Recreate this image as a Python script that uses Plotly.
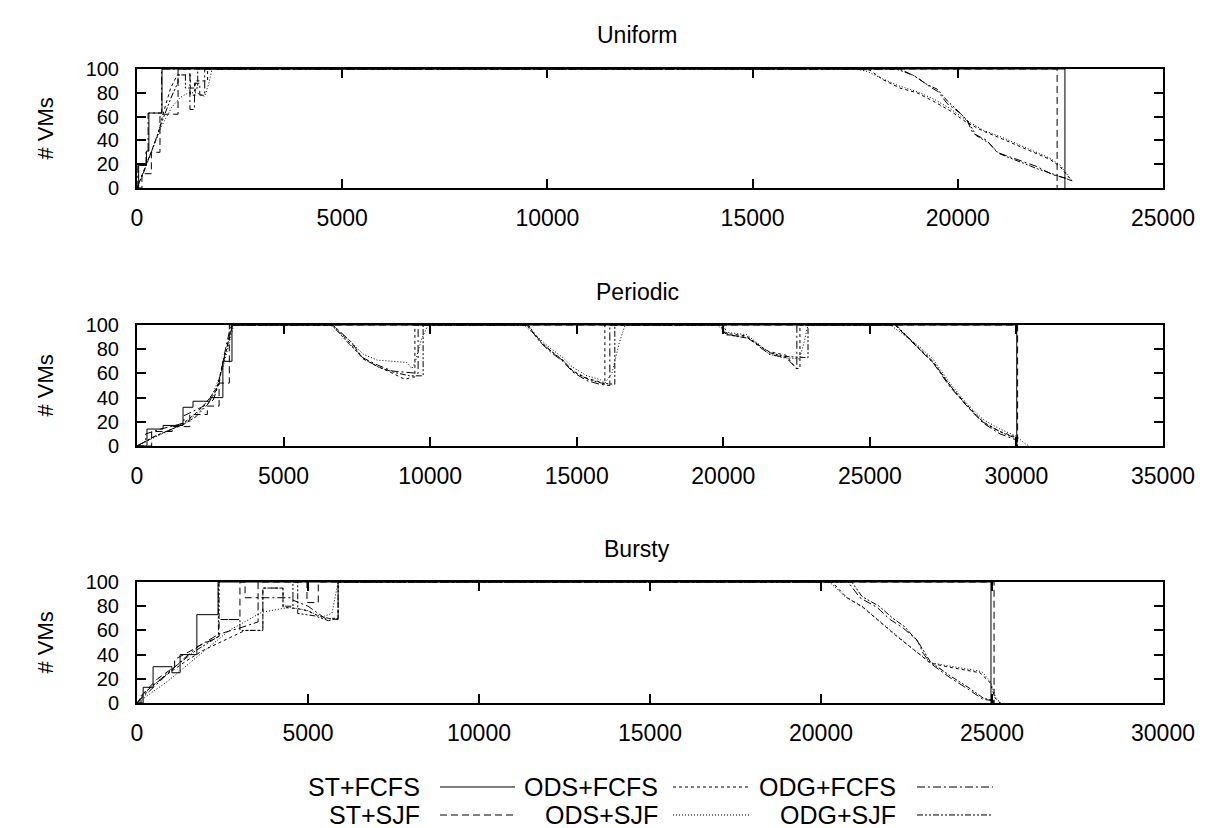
import plotly.graph_objects as go

W, H = 1211, 828
FONT = "Liberation Sans, Arial, Helvetica, sans-serif"
FS_TITLE = 23
FS_XTICK = 23
FS_YTICK = 20
FS_KEY = 25
FS_YLABEL = 22

SERIES = ["ST+FCFS", "ST+SJF", "ODS+FCFS", "ODS+SJF", "ODG+FCFS", "ODG+SJF"]
DASH = {
    "ST+FCFS": "solid",
    "ST+SJF": "7px,4px",
    "ODS+FCFS": "3px,3px",
    "ODS+SJF": "1px,2px",
    "ODG+FCFS": "8px,3px,2px,3px",
    "ODG+SJF": "6px,2px,2px,2px,2px,2px",
}

# ---------------- Uniform workload ----------------
uni_st_fcfs_t = [0, 40, 40, 230, 230, 290, 290, 610, 610, 22610, 22610]
uni_st_fcfs_v = [0, 0, 19, 19, 31, 31, 63, 63, 100, 100, 0]

uni_st_sjf_t = [0, 120, 120, 350, 350, 560, 560, 1000, 1000, 22420, 22420]
uni_st_sjf_v = [0, 0, 12, 12, 30, 30, 62, 62, 100, 100, 0]

uni_ods_fcfs_t = [0, 250, 500, 650, 820, 980, 1300, 1300, 1420, 1420, 1720, 1720,
                  17550, 17860, 18180, 18590, 19005, 19400, 19810, 20220, 20610,
                  21030, 21440, 21830, 22250, 22490, 22730]
uni_ods_fcfs_v = [0, 22, 44, 64, 84, 95, 95, 78, 78, 90, 90, 100,
                  100, 99, 91, 84, 80, 73, 65, 55, 48,
                  42, 36, 30, 24, 18, 8]

uni_ods_sjf_t = [0, 300, 600, 850, 1050, 1250, 1450, 1650, 1750, 1830,
                 17500, 17800, 18150, 18550, 19000, 19400, 19800, 20250, 20650,
                 21050, 21450, 21850, 22250, 22500, 22760]
uni_ods_sjf_v = [0, 26, 52, 68, 76, 80, 80, 77, 88, 100,
                 100, 98, 92, 86, 81, 75, 67, 56, 48,
                 43, 37, 31, 25, 19, 7]

uni_odg_fcfs_t = [0, 20, 20, 220, 220, 270, 270, 600, 600, 1290, 1290, 1400, 1400,
                  1530, 1530, 1650, 1650, 18590, 19005, 19320, 19520, 19740, 20050,
                  20220, 20370, 20710, 20955, 21440, 21930, 22320, 22660, 22810]
uni_odg_fcfs_v = [0, 0, 19, 19, 31, 31, 63, 63, 100, 100, 66, 66, 88,
                  88, 78, 78, 100, 100, 93, 85, 81, 71, 63,
                  57, 46, 40, 30, 24, 18, 11, 8, 5]

uni_odg_sjf_t = [0, 150, 400, 600, 820, 1000, 1000, 1180, 1180, 1480, 1480, 1800,
                 18500, 18900, 19250, 19500, 19750, 20000, 20250, 20450, 20750,
                 21000, 21500, 21950, 22300, 22650, 22790]
uni_odg_sjf_v = [0, 12, 35, 55, 75, 89, 95, 95, 84, 84, 100, 100,
                 100, 95, 87, 83, 73, 65, 56, 44, 38,
                 29, 22, 16, 12, 8, 6]

# ---------------- Periodic workload ----------------
per_st_fcfs_t = [0, 340, 340, 890, 890, 1570, 1570, 1910, 1910, 2490, 2490, 2930,
                 2930, 3240, 3240, 30010, 30010]
per_st_fcfs_v = [0, 0, 14, 14, 17, 17, 32, 32, 37, 37, 40, 40,
                 70, 70, 100, 100, 0]

per_st_sjf_t = [0, 500, 500, 1200, 1200, 1800, 1800, 2400, 2400, 2800, 2800, 3150,
                3150, 30040, 30040]
per_st_sjf_v = [0, 0, 12, 12, 16, 16, 26, 26, 33, 33, 52, 52,
                100, 100, 0]

per_ods_fcfs_t = [0, 700, 1200, 1700, 2100, 2500, 2760, 2930, 3070, 3240,
                  6690, 7265, 7710, 8190, 8730, 9140, 9400, 9480, 9480,
                  13300, 13750, 14090, 14530, 14870, 15350, 15790, 15960, 15960,
                  19900, 20060, 20800, 21220, 21560, 22140, 22480, 22615, 22615,
                  25855, 26600, 27150, 27730, 28310, 28860, 29440, 30020, 30020]
per_ods_fcfs_v = [0, 9, 14, 21, 29, 40, 50, 70, 81, 100,
                  100, 85, 72, 66, 60, 55, 57, 57, 100,
                  100, 87, 79, 71, 62, 56, 53, 51, 100,
                  100, 93, 91, 83, 78, 75, 64, 64, 100,
                  100, 83, 70, 50, 34, 20, 12, 7, 0]

per_ods_sjf_t = [0, 1000, 1700, 2200, 2600, 2900, 3100, 3300,
                 6600, 7265, 7710, 8190, 8730, 9200, 9380, 9500, 9700, 9930,
                 13200, 13750, 14090, 14530, 14870, 15350, 15790, 15960, 16200, 16450, 16650,
                 19800, 20060, 20800, 21220, 21560, 22000, 22600, 22750, 22890,
                 25700, 26600, 27150, 27730, 28310, 28860, 29440, 30000, 30290, 30450]
per_ods_sjf_v = [0, 12, 20, 30, 44, 62, 80, 100,
                 100, 87, 76, 71, 70, 69, 64, 70, 88, 100,
                 100, 88, 81, 73, 65, 58, 55, 52, 60, 85, 100,
                 100, 94, 92, 84, 76, 73, 72, 85, 100,
                 100, 84, 72, 52, 35, 22, 14, 8, 2, 0]

per_odg_fcfs_t = [0, 300, 300, 800, 1300, 1600, 1600, 2200, 2600, 2800, 3000, 3200,
                  6690, 7300, 7700, 8200, 8700, 9380, 9590, 9590,
                  13300, 13750, 14090, 14530, 14870, 15350, 15790, 16130, 16130,
                  19950, 20060, 20800, 21220, 21560, 22140, 22480, 22510, 22510,
                  25855, 26600, 27150, 27730, 28310, 28860, 29440, 30000, 30000]
per_odg_fcfs_v = [0, 4, 10, 14, 17, 19, 25, 32, 38, 52, 78, 100,
                  100, 86, 73, 67, 62, 60, 60, 100,
                  100, 86, 78, 70, 61, 54, 51, 50, 100,
                  100, 92, 90, 82, 76, 73, 64, 64, 100,
                  100, 82, 69, 49, 33, 19, 10, 5, 0]

per_odg_sjf_t = [0, 600, 1100, 1600, 2000, 2400, 2700, 2900, 3100, 3260,
                 6650, 7250, 7750, 8250, 8750, 9300, 9760, 9760,
                 13350, 13800, 14150, 14600, 14900, 15400, 15850, 16300, 16300,
                 20000, 20150, 20850, 21300, 21600, 22100, 22600, 22890, 22890,
                 25900, 26650, 27200, 27800, 28350, 28900, 29500, 30030, 30030]
per_odg_sjf_v = [0, 8, 13, 18, 24, 34, 46, 64, 85, 100,
                 100, 84, 72, 65, 61, 58, 58, 100,
                 100, 85, 78, 69, 61, 55, 52, 51, 100,
                 100, 92, 89, 82, 77, 74, 73, 73, 100,
                 100, 81, 68, 48, 32, 19, 11, 6, 0]

# ---------------- Bursty workload ----------------
bur_st_fcfs_t = [0, 180, 180, 470, 470, 1020, 1020, 1260, 1260, 1750, 1750, 2370,
                 2370, 24970, 24970]
bur_st_fcfs_v = [0, 0, 13, 13, 30, 30, 25, 25, 40, 40, 73, 73,
                 100, 100, 0]

bur_st_sjf_t = [0, 120, 120, 600, 1100, 1100, 1500, 1800, 2400, 2400, 3010, 3010,
                3160, 3160, 3540, 3540, 4970, 4970, 5300, 5300, 25060, 25060]
bur_st_sjf_v = [0, 0, 6, 20, 30, 36, 42, 47, 55, 69, 69, 100,
                100, 87, 87, 100, 100, 83, 83, 100, 100, 0]

bur_ods_fcfs_t = [0, 400, 900, 1400, 1900, 2400, 2900, 3160, 3160, 3680, 3680, 4270,
                  4270, 4700, 5000, 5300, 5600, 5880, 5880,
                  20320, 20760, 21230, 21730, 22220, 22810, 23190, 23680, 24270,
                  24650, 24940, 25090, 25240]
bur_ods_fcfs_v = [0, 13, 24, 34, 43, 50, 57, 60, 60, 60, 95, 95,
                  79, 78, 76, 72, 70, 70, 100,
                  100, 87, 79, 67, 55, 42, 33, 30, 27,
                  25, 17, 4, 0]

bur_ods_sjf_t = [0, 900, 1750, 2700, 3650, 4440, 4940, 5400, 5700, 5880,
                 20250, 20700, 21200, 21700, 22200, 22750, 23250, 23700, 24300,
                 24700, 24950, 25100, 25250]
bur_ods_sjf_v = [0, 18, 38, 60, 75, 79, 77, 71, 74, 100,
                 100, 88, 80, 68, 56, 43, 33, 31, 28,
                 26, 18, 5, 0]

bur_odg_fcfs_t = [0, 300, 800, 1300, 1800, 2400, 2400, 3010, 3010, 3540, 3540, 4560,
                  4560, 5000, 5500, 5880, 5880,
                  20790, 21140, 21640, 22020, 22400, 22810, 22990, 23190, 23770,
                  24270, 24740, 25030, 25030]
bur_odg_fcfs_v = [0, 8, 22, 35, 47, 57, 57, 62, 62, 67, 87, 87,
                  85, 80, 70, 69, 100,
                  100, 87, 79, 69, 62, 52, 41, 33, 21,
                  12, 3, 2, 0]

bur_odg_sjf_t = [0, 200, 700, 1200, 1700, 2200, 2380, 2380, 2400, 2400, 3010, 3010,
                 3680, 3680, 4270, 4270, 4560, 4560, 4700, 4700, 5200, 5600, 5880, 5880,
                 20900, 21200, 21700, 22100, 22450, 22850, 23200, 23800, 24300,
                 24750, 25050, 25050]
bur_odg_sjf_v = [0, 8, 20, 32, 43, 52, 55, 100, 100, 69, 69, 60,
                 60, 95, 95, 80, 80, 100, 100, 74, 72, 68, 70, 100,
                 100, 88, 80, 70, 63, 50, 34, 22, 13,
                 4, 2, 0]

PANELS = [
    {
        "title": "Uniform", "xmax": 25000,
        "data": [(uni_st_fcfs_t, uni_st_fcfs_v), (uni_st_sjf_t, uni_st_sjf_v),
                 (uni_ods_fcfs_t, uni_ods_fcfs_v), (uni_ods_sjf_t, uni_ods_sjf_v),
                 (uni_odg_fcfs_t, uni_odg_fcfs_v), (uni_odg_sjf_t, uni_odg_sjf_v)],
        "top": 69, "bottom": 188, "title_y": 35,
    },
    {
        "title": "Periodic", "xmax": 35000,
        "data": [(per_st_fcfs_t, per_st_fcfs_v), (per_st_sjf_t, per_st_sjf_v),
                 (per_ods_fcfs_t, per_ods_fcfs_v), (per_ods_sjf_t, per_ods_sjf_v),
                 (per_odg_fcfs_t, per_odg_fcfs_v), (per_odg_sjf_t, per_odg_sjf_v)],
        "top": 325, "bottom": 446, "title_y": 292,
    },
    {
        "title": "Bursty", "xmax": 30000,
        "data": [(bur_st_fcfs_t, bur_st_fcfs_v), (bur_st_sjf_t, bur_st_sjf_v),
                 (bur_ods_fcfs_t, bur_ods_fcfs_v), (bur_ods_sjf_t, bur_ods_sjf_v),
                 (bur_odg_fcfs_t, bur_odg_fcfs_v), (bur_odg_sjf_t, bur_odg_sjf_v)],
        "top": 582, "bottom": 703, "title_y": 549,
    },
]

X_LEFT, X_RIGHT = 137, 1163


def px(x):
    return x / W


def py(y):
    return 1 - y / H


fig = go.Figure()
annotations = []
shapes = []

for i, panel in enumerate(PANELS, start=1):
    xa = "x" if i == 1 else f"x{i}"
    ya = "y" if i == 1 else f"y{i}"
    for name, (t, v) in zip(SERIES, panel["data"]):
        fig.add_trace(go.Scatter(
            x=t, y=v, mode="lines", name=name, showlegend=False,
            line=dict(color="black", width=1, dash=DASH[name]),
            xaxis=xa, yaxis=ya, hoverinfo="skip",
        ))
    common = dict(
        showline=True, linecolor="black", linewidth=2, mirror="ticks",
        ticks="inside", ticklen=9, tickwidth=2, tickcolor="black",
        showgrid=False, zeroline=False, automargin=False, tickformat="d",
    )
    fig.layout[f"xaxis{'' if i == 1 else i}"] = dict(
        domain=[px(X_LEFT), px(X_RIGHT)], range=[0, panel["xmax"]],
        dtick=5000, tick0=0, anchor=ya, ticklabelstandoff=8,
        tickfont=dict(family=FONT, size=FS_XTICK, color="black"), **common,
    )
    fig.layout[f"yaxis{'' if i == 1 else i}"] = dict(
        domain=[py(panel["bottom"]), py(panel["top"])], range=[0, 100],
        dtick=20, tick0=0, anchor=xa, ticklabelstandoff=12,
        tickfont=dict(family=FONT, size=FS_YTICK, color="black"), **common,
    )
    annotations.append(dict(
        x=px(637), y=py(panel["title_y"]), xref="paper", yref="paper",
        text=panel["title"], showarrow=False, xanchor="center", yanchor="middle",
        font=dict(family=FONT, size=FS_TITLE, color="black"),
    ))
    annotations.append(dict(
        x=px(45), y=py((panel["top"] + panel["bottom"]) / 2), xref="paper", yref="paper",
        text="# VMs", showarrow=False, textangle=-90, xanchor="center", yanchor="middle",
        font=dict(family=FONT, size=FS_YLABEL, color="black"),
    ))

# Key below the panels: label right-aligned, then a line sample
KEY_COLS = [(422, 440, 515), (660, 673, 750), (898, 917, 993)]
KEY_ROWS = [787, 815]
for k, name in enumerate(SERIES):
    col = KEY_COLS[k // 2]
    row = KEY_ROWS[k % 2]
    annotations.append(dict(
        x=px(col[0]), y=py(row), xref="paper", yref="paper", text=name,
        showarrow=False, xanchor="right", yanchor="middle",
        font=dict(family=FONT, size=FS_KEY, color="black"),
    ))
    shapes.append(dict(
        type="line", xref="paper", yref="paper",
        x0=px(col[1]), x1=px(col[2]), y0=py(row), y1=py(row),
        line=dict(color="black", width=1, dash=DASH[name]),
    ))

fig.update_layout(
    width=W, height=H, margin=dict(l=0, r=0, t=0, b=0, autoexpand=False),
    paper_bgcolor="white", plot_bgcolor="white",
    annotations=annotations, shapes=shapes, showlegend=False,
    font=dict(family=FONT, size=FS_XTICK, color="black"),
)

fig.write_html("out.html")
